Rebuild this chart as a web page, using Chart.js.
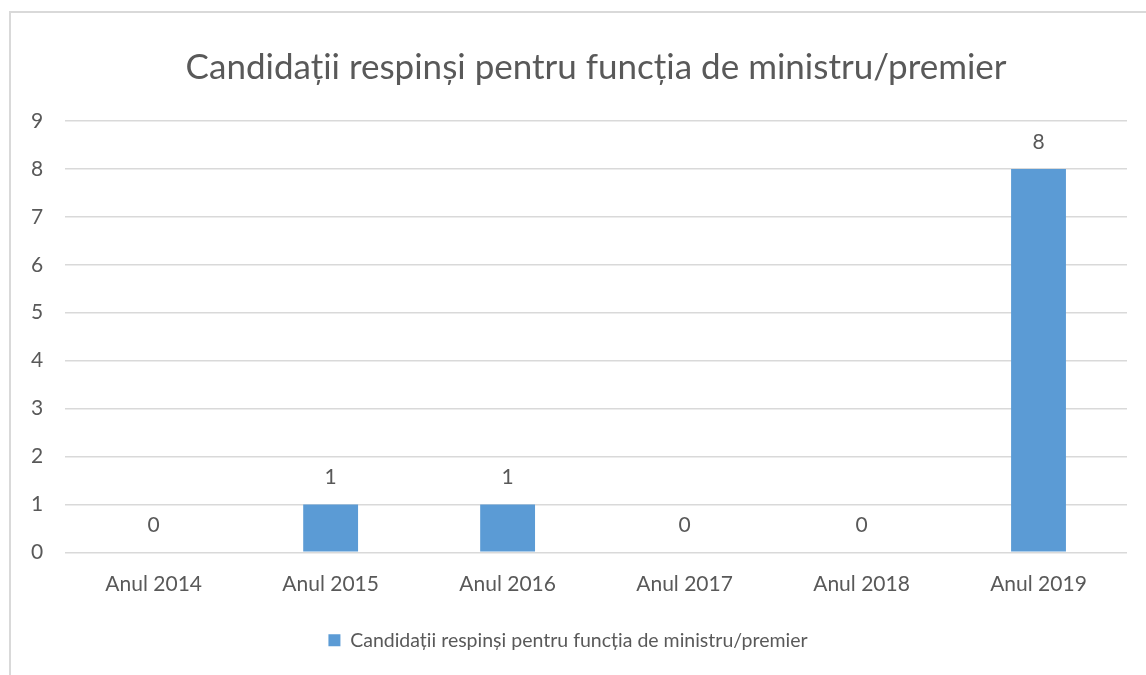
<!DOCTYPE html>
<html>
<head>
<meta charset="utf-8">
<script src="https://cdn.jsdelivr.net/npm/chart.js@4"></script>
<style>
  html, body { margin: 0; padding: 0; background: #fff; }
  #wrap { position: relative; width: 1146px; height: 675px; overflow: hidden; }
  #frame { position: absolute; left: 9px; top: 11px; width: 1180px; height: 700px; border: 2px solid #d9d9d9; box-sizing: border-box; }
  canvas { position: absolute; left: 0; top: 0; }
</style>
</head>
<body>
<div id="wrap">
  <div id="frame"></div>
  <canvas id="chart" width="1146" height="675"></canvas>
</div>
<script>
const categories = ["Anul 2014", "Anul 2015", "Anul 2016", "Anul 2017", "Anul 2018", "Anul 2019"];
const values = [0, 1, 1, 0, 0, 8];
const seriesName = "Candidații respinși pentru funcția de ministru/premier";
const yTicks = [0, 1, 2, 3, 4, 5, 6, 7, 8, 9];

const textColor = "#595959";
const fontFamily = "Lato, 'Open Sans', sans-serif";

// writes the value above every bar
const barLabels = {
  id: "barLabels",
  afterDatasetsDraw(chart) {
    const ctx = chart.ctx;
    const meta = chart.getDatasetMeta(0);
    ctx.save();
    ctx.fillStyle = textColor;
    ctx.font = "21px " + fontFamily;
    ctx.textAlign = "center";
    ctx.textBaseline = "middle";
    meta.data.forEach((bar, i) => {
      ctx.fillText(String(values[i]), bar.x, bar.y - 27);
    });
    ctx.restore();
  }
};

const ctx = document.getElementById("chart").getContext("2d");

new Chart(ctx, {
  type: "bar",
  data: {
    labels: categories,
    datasets: [{
      label: seriesName,
      data: values,
      backgroundColor: "#5b9bd5",
      borderWidth: 0,
      barPercentage: 0.31,
      categoryPercentage: 1
    }]
  },
  options: {
    responsive: false,
    animation: false,
    layout: { padding: { left: 9, right: 19, top: 12, bottom: 15 } },
    plugins: {
      title: {
        display: true,
        fullSize: false,
        text: seriesName,
        color: textColor,
        font: { family: fontFamily, size: 35, weight: "normal" },
        padding: { top: 35, bottom: 32 }
      },
      legend: {
        position: "bottom",
        labels: {
          color: textColor,
          font: { family: fontFamily, size: 19.5 },
          boxWidth: 12,
          boxHeight: 12,
          padding: 23
        }
      },
      tooltip: { enabled: false }
    },
    scales: {
      x: {
        grid: { display: false },
        border: { display: false },
        ticks: { color: textColor, font: { family: fontFamily, size: 21 }, padding: 11 }
      },
      y: {
        min: 0,
        max: 9,
        afterBuildTicks(scale) { scale.ticks = yTicks.map(v => ({ value: v })); },
        grid: { color: "#d9d9d9", lineWidth: 1.5, drawTicks: false },
        border: { display: false },
        ticks: { color: textColor, font: { family: fontFamily, size: 21 }, padding: 22 }
      }
    }
  },
  plugins: [barLabels]
});
</script>
</body>
</html>
